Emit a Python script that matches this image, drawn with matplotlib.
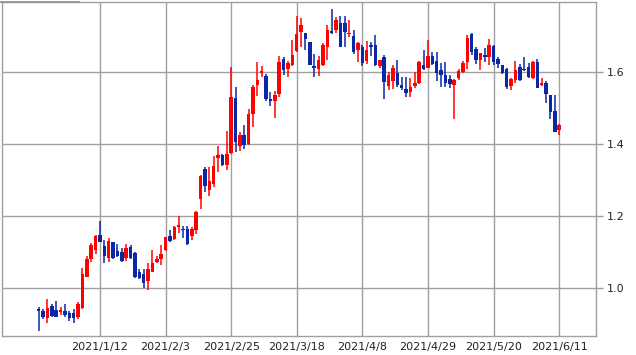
import matplotlib
matplotlib.use("Agg")
from matplotlib import pyplot as plt
from matplotlib.lines import Line2D
import numpy as np

# daily OHLC (oldest first)
opens = [0.941, 0.937, 0.918, 0.950, 0.939, 0.934, 0.936, 0.930, 0.930, 0.920,
         0.944, 1.031, 1.080, 1.106, 1.146, 1.117, 1.084, 1.127, 1.104, 1.099,
         1.084, 1.113, 1.096, 1.044, 1.039, 1.020, 1.045, 1.071, 1.081, 1.106,
         1.144, 1.136, 1.170, 1.165, 1.165, 1.144, 1.161, 1.247, 1.331, 1.272,
         1.289, 1.360, 1.369, 1.342, 1.374, 1.527, 1.393, 1.425, 1.400, 1.483,
         1.564, 1.596, 1.589, 1.525, 1.520, 1.539, 1.637, 1.608, 1.619, 1.659,
         1.710, 1.707, 1.682, 1.615, 1.608, 1.619, 1.670, 1.714, 1.715, 1.735,
         1.735, 1.704, 1.700, 1.661, 1.669, 1.631, 1.674, 1.675, 1.615, 1.641,
         1.562, 1.575, 1.598, 1.564, 1.553, 1.545, 1.562, 1.569, 1.619, 1.612,
         1.644, 1.631, 1.606, 1.592, 1.581, 1.564, 1.584, 1.601, 1.626, 1.705,
         1.664, 1.633, 1.647, 1.640, 1.672, 1.637, 1.619, 1.608, 1.561, 1.578,
         1.614, 1.608, 1.614, 1.584, 1.628, 1.564, 1.569, 1.536, 1.492, 1.439]
highs = [0.948, 0.941, 0.971, 0.956, 0.964, 0.948, 0.956, 0.937, 0.941, 0.962,
         1.056, 1.089, 1.126, 1.148, 1.187, 1.133, 1.138, 1.128, 1.122, 1.110,
         1.122, 1.119, 1.099, 1.052, 1.052, 1.070, 1.106, 1.089, 1.119, 1.142,
         1.161, 1.172, 1.200, 1.172, 1.172, 1.169, 1.213, 1.313, 1.335, 1.337,
         1.367, 1.394, 1.372, 1.436, 1.613, 1.557, 1.434, 1.453, 1.497, 1.564,
         1.626, 1.615, 1.594, 1.545, 1.548, 1.643, 1.640, 1.631, 1.689, 1.754,
         1.749, 1.708, 1.683, 1.650, 1.643, 1.681, 1.731, 1.775, 1.752, 1.754,
         1.754, 1.744, 1.717, 1.684, 1.675, 1.686, 1.684, 1.703, 1.634, 1.647,
         1.599, 1.618, 1.633, 1.585, 1.585, 1.582, 1.601, 1.629, 1.661, 1.689,
         1.656, 1.656, 1.624, 1.626, 1.592, 1.579, 1.608, 1.631, 1.701, 1.709,
         1.670, 1.653, 1.666, 1.692, 1.675, 1.640, 1.620, 1.610, 1.582, 1.631,
         1.622, 1.640, 1.624, 1.631, 1.637, 1.582, 1.575, 1.537, 1.536, 1.454]
lows = [0.881, 0.913, 0.902, 0.920, 0.919, 0.925, 0.920, 0.909, 0.904, 0.914,
        0.941, 1.030, 1.073, 1.094, 1.128, 1.070, 1.073, 1.080, 1.087, 1.073,
        1.076, 1.080, 1.029, 1.026, 0.999, 0.994, 1.044, 1.069, 1.065, 1.104,
        1.128, 1.133, 1.152, 1.138, 1.119, 1.133, 1.150, 1.219, 1.268, 1.256,
        1.281, 1.323, 1.340, 1.328, 1.373, 1.379, 1.381, 1.386, 1.397, 1.448,
        1.533, 1.585, 1.520, 1.504, 1.473, 1.531, 1.592, 1.585, 1.615, 1.656,
        1.670, 1.662, 1.618, 1.587, 1.589, 1.617, 1.633, 1.705, 1.707, 1.670,
        1.670, 1.698, 1.650, 1.626, 1.615, 1.621, 1.643, 1.615, 1.610, 1.525,
        1.550, 1.552, 1.557, 1.550, 1.529, 1.529, 1.555, 1.567, 1.606, 1.610,
        1.618, 1.576, 1.557, 1.559, 1.556, 1.469, 1.578, 1.596, 1.607, 1.647,
        1.622, 1.604, 1.627, 1.618, 1.619, 1.612, 1.594, 1.552, 1.550, 1.570,
        1.575, 1.603, 1.582, 1.581, 1.554, 1.562, 1.513, 1.469, 1.434, 1.425]
closes = [0.937, 0.920, 0.944, 0.922, 0.921, 0.939, 0.925, 0.916, 0.918, 0.956,
          1.039, 1.081, 1.119, 1.144, 1.129, 1.090, 1.131, 1.084, 1.089, 1.076,
          1.110, 1.084, 1.031, 1.029, 1.013, 1.052, 1.069, 1.082, 1.095, 1.141,
          1.132, 1.169, 1.175, 1.160, 1.122, 1.165, 1.211, 1.312, 1.282, 1.297,
          1.339, 1.369, 1.342, 1.372, 1.531, 1.404, 1.425, 1.396, 1.483, 1.557,
          1.578, 1.603, 1.525, 1.520, 1.536, 1.626, 1.606, 1.624, 1.647, 1.706,
          1.731, 1.692, 1.620, 1.612, 1.633, 1.675, 1.717, 1.709, 1.744, 1.670,
          1.712, 1.708, 1.656, 1.681, 1.624, 1.661, 1.668, 1.618, 1.633, 1.573,
          1.592, 1.610, 1.564, 1.556, 1.541, 1.557, 1.569, 1.626, 1.608, 1.643,
          1.622, 1.598, 1.590, 1.569, 1.567, 1.578, 1.603, 1.624, 1.695, 1.656,
          1.633, 1.652, 1.640, 1.675, 1.626, 1.621, 1.598, 1.559, 1.581, 1.606,
          1.578, 1.604, 1.585, 1.626, 1.555, 1.570, 1.538, 1.490, 1.434, 1.453]

tick_labels = ["2021/1/12", "2021/2/3", "2021/2/25", "2021/3/18",
               "2021/4/8", "2021/4/29", "2021/5/20", "2021/6/11"]
first_tick_bar = 14
bars_per_tick = 15
y_ticks = [1.0, 1.2, 1.4, 1.6]

UP = "#ff0000"
DOWN = "#0a28a5"
GRID = "#a0a0a0"


def main():
    o = np.array(opens)
    h = np.array(highs)
    l = np.array(lows)
    c = np.array(closes)
    x = np.arange(len(o))
    colors = np.where(c >= o, UP, DOWN)

    fig = plt.figure(figsize=(6.36, 3.55), dpi=100)
    ax = fig.add_axes([0.0024, 0.0535, 0.9345, 0.941])

    ax.grid(True, color=GRID, linewidth=1.0)
    ax.set_axisbelow(True)

    ax.vlines(x, l, h, colors=colors, linewidth=1.1, zorder=2)
    body = np.maximum(np.abs(c - o), 0.003)
    ax.bar(x, body, bottom=np.minimum(o, c), width=0.8, color=colors,
           linewidth=0, antialiased=False, zorder=3)

    ax.set_xlim(-8.5, 127.4)
    ax.set_ylim(0.867, 1.794)

    ax.set_xticks([first_tick_bar + i * bars_per_tick for i in range(len(tick_labels))])
    ax.set_xticklabels(tick_labels)
    ax.set_yticks(y_ticks)
    ax.set_yticklabels(["%.1f" % v for v in y_ticks])

    ax.yaxis.tick_right()
    ax.tick_params(axis="x", length=0, pad=4, labelsize=8, colors="#222222")
    ax.tick_params(axis="y", length=5, width=1, pad=3, labelsize=8,
                   color=GRID, labelcolor="#222222")
    for s in ax.spines.values():
        s.set_color(GRID)
        s.set_linewidth(1.0)

    # thin grey bar at the very top-left of the image
    fig.add_artist(Line2D([0, 79 / 636], [1 - 1.5 / 355] * 2, color="#909090",
                          linewidth=1.2, transform=fig.transFigure))

    fig.savefig("out.png", dpi=100)


if __name__ == '__main__':
    main()
